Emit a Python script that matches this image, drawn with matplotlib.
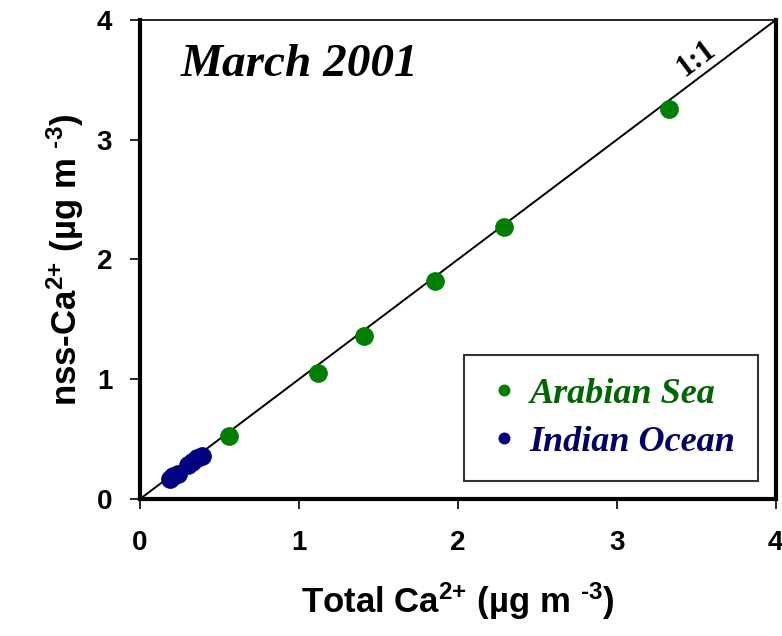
import numpy as np
import matplotlib
matplotlib.use("Agg")
import matplotlib.pyplot as plt
from matplotlib.lines import Line2D

# data (ug m-3)
arabian_total = [0.56, 1.12, 1.41, 1.855, 2.29, 3.33]
arabian_nss = [0.53, 1.05, 1.36, 1.82, 2.27, 3.26]
indian_total = [0.19, 0.21, 0.24, 0.30, 0.33, 0.36, 0.39]
indian_nss = [0.17, 0.19, 0.21, 0.28, 0.31, 0.34, 0.36]
ticks = [0, 1, 2, 3, 4]

green = '#008000'
navy = '#000080'

plt.rcParams['font.family'] = ['Liberation Sans', 'DejaVu Sans']
plt.rcParams['mathtext.fontset'] = 'custom'
plt.rcParams['mathtext.bf'] = 'Liberation Sans:bold'
plt.rcParams['mathtext.rm'] = 'Liberation Sans:bold'
plt.rcParams['mathtext.default'] = 'bf'

fig = plt.figure(figsize=(7.82, 6.36), dpi=100)
ax = fig.add_axes([0.179, 0.2154, 0.813, 0.7532])

# 1:1 line
ax.plot([0, 4], [0, 4], color='black', lw=1.4, zorder=1)
ax.text(3.5, 3.68, '1:1', rotation=37, fontsize=22, fontweight='bold',
        family='Liberation Serif', ha='center', va='center')

ax.plot(arabian_total, arabian_nss, 'o', color=green, ms=13.5,
        mec='none', zorder=3)
ax.plot(indian_total, indian_nss, 'o', color=navy, ms=13.5,
        mec='none', zorder=3)

ax.set_xlim(0, 4)
ax.set_ylim(0, 4)
ax.set_xticks(ticks)
ax.set_yticks(ticks)
ax.tick_params(direction='out', length=7, width=1.2, labelsize=20)
ax.tick_params(axis='x', pad=15)
ax.tick_params(axis='y', pad=13)
for lab in ax.get_xticklabels() + ax.get_yticklabels():
    lab.set_fontweight('bold')

for s in ['left', 'bottom', 'right']:
    ax.spines[s].set_linewidth(3)
ax.spines['top'].set_linewidth(1.2)

ax.set_xlabel(r'Total Ca$^{\text{2+}}$ (µg m $^{\text{-3}}$)', fontsize=25,
              fontweight='bold', labelpad=18)
ax.set_ylabel(r'nss-Ca$^{\text{2+}}$ (µg m $^{\text{-3}}$)', fontsize=25,
              fontweight='bold', labelpad=8)

ax.text(0.258, 3.62, 'March 2001', fontsize=34, fontweight='bold',
        style='italic', family='Liberation Serif', va='center')

# legend box
handles = [Line2D([], [], ls='none', marker='o', color=green, ms=8.6, mec='none'),
           Line2D([], [], ls='none', marker='o', color=navy, ms=8.6, mec='none')]
leg = ax.legend(handles, ['Arabian Sea', 'Indian Ocean'], loc='lower right',
                bbox_to_anchor=(0.972, 0.0376), frameon=True, fancybox=False,
                edgecolor='black', handletextpad=0.2, borderpad=0.62,
                labelspacing=0.4, handlelength=1.0, borderaxespad=0,
                prop={'family': 'Liberation Serif', 'weight': 'bold',
                      'style': 'italic', 'size': 26})
leg.get_frame().set_linewidth(1.5)
leg.texts[0].set_color('#006600')
leg.texts[1].set_color('#000066')

fig.savefig('out.png', dpi=100)
